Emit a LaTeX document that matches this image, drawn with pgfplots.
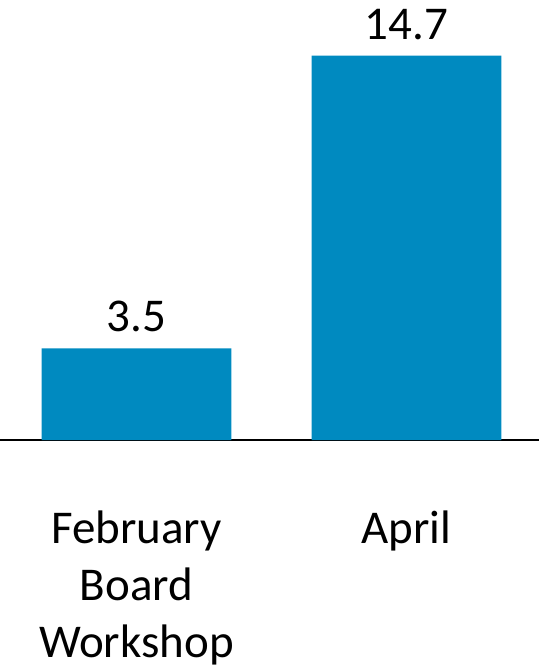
\documentclass[border=0pt]{standalone}
\usepackage{pgfplots}
\pgfplotsset{compat=1.18}
\usepackage{fontspec}
\setmainfont{Carlito}
\definecolor{barblue}{HTML}{008AC0}
\begin{document}
\begin{tikzpicture}
\path[use as bounding box] (0pt,-228pt) rectangle (539pt,440pt);
\begin{axis}[
  scale only axis,
  width=539pt, height=440pt,
  xmin=-0.5056, xmax=1.4907,
  ymin=0, ymax=16.83,
  hide y axis,
  axis x line*=bottom,
  axis line style={-, line width=1.3pt, black},
  xtick={0,1},
  xticklabels={{\begin{tabular}[t]{@{}c@{}}February\\Board\\Workshop\end{tabular}},{\begin{tabular}[t]{@{}c@{}}April\end{tabular}}},
  major tick length=0pt,
  xticklabel style={anchor=base, yshift=-103pt, font=\fontsize{47}{57}\selectfont, inner sep=0pt},
  clip=false,
  ybar, bar width=189.6pt, bar shift=0pt,
  nodes near coords={\pgfmathprintnumber[fixed,fixed zerofill,precision=1,assume math mode=true]{\pgfplotspointmeta}},
  nodes near coords style={anchor=base, yshift=16.5pt, font=\fontsize{47}{57}\selectfont, inner sep=0pt, black},
]
\addplot[fill=barblue, draw=none] coordinates {(0,3.5) (1,14.7)};
\end{axis}
\end{tikzpicture}
\end{document}
